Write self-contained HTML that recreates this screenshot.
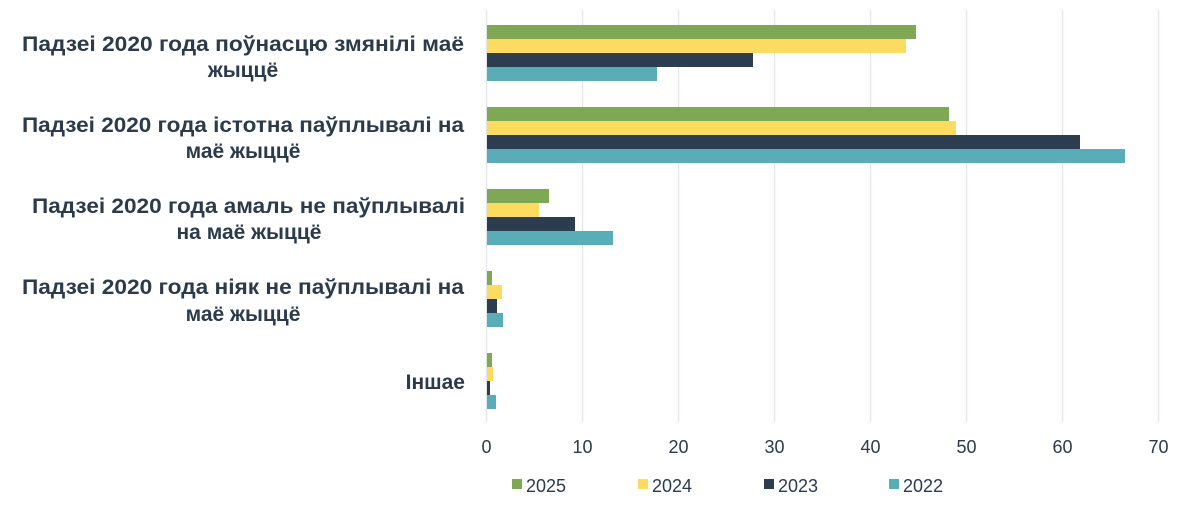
<!DOCTYPE html>
<html><head><meta charset="utf-8"><style>
html,body{margin:0;padding:0;background:#fff;}
svg{display:block;}
text{font-family:"Liberation Sans","DejaVu Sans",sans-serif;}
.l{font-weight:bold;font-size:21px;fill:#2b3b4b;}
.t{font-size:18px;fill:#2b3b4b;}
</style></head><body>
<svg width="1200" height="510" viewBox="0 0 1200 510" xmlns="http://www.w3.org/2000/svg">
<g stroke="#e3e5ec" stroke-width="1.3">
<line x1="486.5" y1="10" x2="486.5" y2="422"/>
<line x1="582.5" y1="10" x2="582.5" y2="422"/>
<line x1="678.5" y1="10" x2="678.5" y2="422"/>
<line x1="774.5" y1="10" x2="774.5" y2="422"/>
<line x1="870.5" y1="10" x2="870.5" y2="422"/>
<line x1="966.5" y1="10" x2="966.5" y2="422"/>
<line x1="1062.5" y1="10" x2="1062.5" y2="422"/>
<line x1="1158.5" y1="10" x2="1158.5" y2="422"/>
</g>
<g>
<rect x="487" y="25" width="429" height="14" fill="#7ea853"/>
<rect x="487" y="39" width="419" height="14" fill="#fbdc60"/>
<rect x="487" y="53" width="266" height="14" fill="#2b3d4e"/>
<rect x="487" y="67" width="170" height="14" fill="#58adb7"/>

<rect x="487" y="107" width="462" height="14" fill="#7ea853"/>
<rect x="487" y="121" width="469" height="14" fill="#fbdc60"/>
<rect x="487" y="135" width="593" height="14" fill="#2b3d4e"/>
<rect x="487" y="149" width="638" height="14" fill="#58adb7"/>

<rect x="487" y="189" width="62" height="14" fill="#7ea853"/>
<rect x="487" y="203" width="52" height="14" fill="#fbdc60"/>
<rect x="487" y="217" width="88" height="14" fill="#2b3d4e"/>
<rect x="487" y="231" width="126" height="14" fill="#58adb7"/>

<rect x="487" y="271" width="5" height="14" fill="#7ea853"/>
<rect x="487" y="285" width="15" height="14" fill="#fbdc60"/>
<rect x="487" y="299" width="10" height="14" fill="#2b3d4e"/>
<rect x="487" y="313" width="16" height="14" fill="#58adb7"/>

<rect x="487" y="353" width="5" height="14" fill="#7ea853"/>
<rect x="487" y="367" width="6" height="14" fill="#fbdc60"/>
<rect x="487" y="381" width="3" height="14" fill="#2b3d4e"/>
<rect x="487" y="395" width="9" height="14" fill="#58adb7"/>
</g>
<g class="l">
<text x="22" y="51" textLength="442" lengthAdjust="spacingAndGlyphs">Падзеі 2020 года поўнасцю змянілі маё</text>
<text x="243" y="77" text-anchor="middle">жыццё</text>
<text x="22" y="132" textLength="442" lengthAdjust="spacingAndGlyphs">Падзеі 2020 года істотна паўплывалі на</text>
<text x="243" y="158" text-anchor="middle">маё жыццё</text>
<text x="32" y="213" textLength="433" lengthAdjust="spacingAndGlyphs">Падзеі 2020 года амаль не паўплывалі</text>
<text x="249" y="239" text-anchor="middle">на маё жыццё</text>
<text x="22" y="294" textLength="442" lengthAdjust="spacingAndGlyphs">Падзеі 2020 года ніяк не паўплывалі на</text>
<text x="243" y="321" text-anchor="middle">маё жыццё</text>
<text x="465" y="389" text-anchor="end">Іншае</text>
</g>
<g class="t" text-anchor="middle">
<text x="486.5" y="453">0</text>
<text x="582.5" y="453">10</text>
<text x="678.5" y="453">20</text>
<text x="774.5" y="453">30</text>
<text x="870.5" y="453">40</text>
<text x="966.5" y="453">50</text>
<text x="1062.5" y="453">60</text>
<text x="1158.5" y="453">70</text>
</g>
<g class="t">
<rect x="512" y="479" width="10" height="10" fill="#7ea853"/><text x="526" y="492">2025</text>
<rect x="638" y="479" width="10" height="10" fill="#fbdc60"/><text x="652" y="492">2024</text>
<rect x="764" y="479" width="10" height="10" fill="#2b3d4e"/><text x="778" y="492">2023</text>
<rect x="889" y="479" width="10" height="10" fill="#58adb7"/><text x="903" y="492">2022</text>
</g>
</svg>
</body></html>
